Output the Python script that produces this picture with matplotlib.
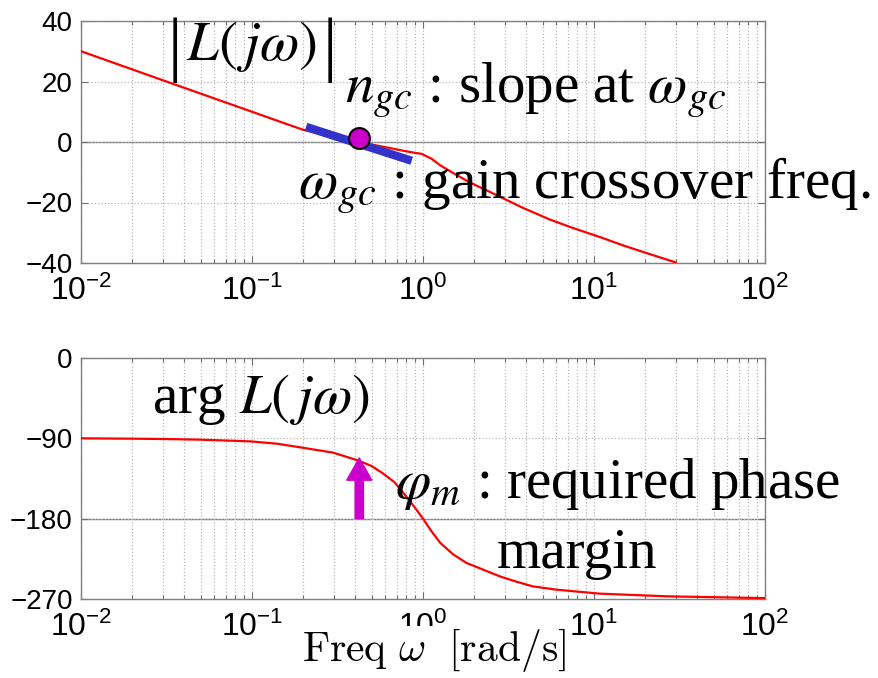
import matplotlib
matplotlib.use("Agg")
import matplotlib.pyplot as plt

# ---------------- data ----------------
mag_w = [0.01, 0.035, 0.1, 0.146, 0.2, 0.3, 0.42, 0.64, 0.8, 0.9, 0.98, 1.12, 1.26, 1.58, 1.9, 2.46,
         3.85, 5.5, 7.5, 10.8, 15.0, 20.0, 30.0]
mag_db = [30.0, 19.1, 10.0, 6.7, 4.0, 1.7, 0.0, -2.0, -3.1, -3.6, -3.9, -5.5, -7.7, -11.0, -13.5, -16.5,
          -21.8, -25.6, -28.4, -31.4, -34.3, -36.6, -39.8]

ph_w = [0.01, 0.02, 0.0318, 0.05, 0.0976, 0.14, 0.19, 0.298, 0.42, 0.5, 0.58, 0.68, 0.805, 0.9, 1.0,
        1.12, 1.26, 1.5, 1.8, 2.24, 2.82, 3.5, 4.4, 6.0, 10.8, 26.7, 100.0]
ph_deg = [-90.0, -90.4, -90.8, -91.5, -93.4, -96.0, -100.0, -106.0, -115.0, -121.0, -129.0, -139.0,
          -156.0, -168.0, -180.0, -194.0, -207.0, -220.0, -229.7, -237.0, -244.7, -250.5, -255.9,
          -259.5, -264.0, -267.0, -269.0]

w_gc = 0.424
mag_at_gc = 1.3
slope_bar_w = [0.207, 0.859]
slope_bar_db = [5.0, -6.2]
phase_arrow = [-180.0, -112.0]

mag_yticks = [-40, -20, 0, 20, 40]
mag_yticklabels = ['\u221240', '\u221220', '0', '20', '40']
ph_yticks = [-270, -180, -90, 0]
ph_yticklabels = ['\u2212270', '\u2212180', '\u221290', '0']
xticks = [1e-2, 1e-1, 1e0, 1e1, 1e2]
xtick_labels = [r'$\mathregular{10^{-2}}$', r'$\mathregular{10^{-1}}$', r'$\mathregular{10^{0}}$',
                r'$\mathregular{10^{1}}$', r'$\mathregular{10^{2}}$']

# ---------------- figure ----------------
W, H = 879, 678
fig = plt.figure(figsize=(W / 100, H / 100), dpi=100)

def px_axes(l, t, r, b):
    return fig.add_axes([l / W, 1 - b / H, (r - l) / W, (b - t) / H])

ax1 = px_axes(81, 21, 765, 263)
ax2 = px_axes(81, 358, 765, 599)

tick_font = 'Liberation Sans'

for ax in (ax1, ax2):
    ax.set_xscale('log')
    ax.set_xlim(1e-2, 1e2)
    ax.set_xticks(xticks)
    ax.set_xticklabels(xtick_labels)
    for lab in ax.get_xticklabels():
        lab.set_fontfamily(tick_font)
        lab.set_fontsize(23)
    ax.grid(True, which='major', axis='both', linestyle=':', color='#b8b8b8', linewidth=0.9)
    ax.grid(True, which='minor', axis='x', linestyle=':', color='#b8b8b8', linewidth=0.9)
    ax.tick_params(which='both', direction='in', top=True, right=True, color='#707070')
    ax.tick_params(which='major', length=5, width=0.8, pad=6)
    ax.tick_params(which='minor', length=3, width=0.8)
    ax.tick_params(axis='x', which='major', pad=9)
    for sp in ax.spines.values():
        sp.set_color('#808080')
        sp.set_linewidth(1.0)

# magnitude
ax1.set_ylim(-40, 40)
ax1.set_yticks(mag_yticks)
ax1.set_yticklabels(mag_yticklabels, fontfamily=tick_font, fontsize=20)
ax1.axhline(0, color='#808080', linewidth=1.0, zorder=1.5)
ax1.plot(mag_w, mag_db, color='red', linewidth=1.6, zorder=3)
ax1.plot(slope_bar_w, slope_bar_db, color='#3333cc', linewidth=6, solid_capstyle='butt', zorder=4)
ax1.plot([w_gc], [mag_at_gc], 'o', markersize=15, markerfacecolor='#cc00cc',
         markeredgecolor='black', markeredgewidth=1.5, zorder=5)

# phase
ax2.set_ylim(-270, 0)
ax2.set_yticks(ph_yticks)
ax2.set_yticklabels(ph_yticklabels, fontfamily=tick_font, fontsize=20)
ax2.axhline(-180, color='#808080', linewidth=1.0, zorder=1.5)
ax2.plot(ph_w, ph_deg, color='red', linewidth=1.6, zorder=3)
ax2.annotate('', xy=(w_gc, phase_arrow[1]), xytext=(w_gc, phase_arrow[0]),
             arrowprops=dict(arrowstyle='simple,head_length=0.8,head_width=0.9,tail_width=0.3',
                             color='#cc00cc', shrinkA=0, shrinkB=0, mutation_scale=20),
             zorder=5)

xl = ax2.set_xlabel(r'$\mathrm{Freq}\ \omega\ \ \mathrm{[rad/s]}$', fontsize=30,
                    math_fontfamily='cm')
ax2.xaxis.set_label_coords((434 - 81) / 684, -(661 - 599) / 241, transform=ax2.transAxes)
xl.set_va('baseline')
xl.set_bbox(dict(facecolor='white', edgecolor='none', pad=1))

# ---------------- annotations ----------------
serif = 'Liberation Serif'
def ftext(x, y, s, size=41, **kw):
    fig.text(x / W, 1 - y / H, s, fontsize=size, fontfamily=serif, math_fontfamily='stix', **kw)

ftext(252, 47, r'$L(\,j\omega)$', ha='center', va='center')
ftext(175, 50, '|', size=52, ha='center', va='center')
ftext(330, 50, '|', size=52, ha='center', va='center')
ftext(345, 102, r'$n_{gc}$ : slope at $\omega_{gc}$', ha='left', va='baseline')
ftext(298, 199, r'$\omega_{gc}$ : gain crossover freq.', ha='left', va='baseline')
ftext(152, 413, r'arg $L(\,j\omega)$', ha='left', va='baseline')
ftext(395, 498, r'$\varphi_m$ : required phase', ha='left', va='baseline')
ftext(497, 568, 'margin', ha='left', va='baseline')

fig.savefig('out.png', dpi=100)
